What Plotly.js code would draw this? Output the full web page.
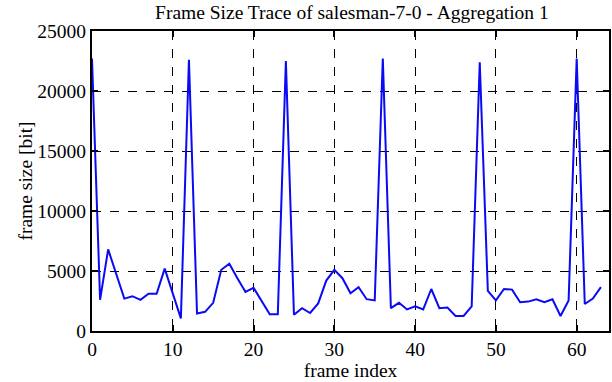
<!DOCTYPE html>
<html>
<head>
<meta charset="utf-8">
<script src="https://cdn.plot.ly/plotly-3.0.1.min.js"></script>
<style>html,body{margin:0;padding:0;background:#fff;}#chart{width:612px;height:382px;}</style>
</head>
<body>
<div id="chart"></div>
<script>
const frameIndex = Array.from({length: 64}, (_, i) => i);
const frameSize = [
  22700, 2600, 6800, 4700, 2700, 2900, 2600, 3100, 3100, 5200,
  3200, 1050, 22600, 1450, 1600, 2350, 5100, 5600, 4400, 3250,
  3600, 2450, 1400, 1400, 22500, 1350, 1900, 1500, 2300, 4200,
  5100, 4400, 3150, 3650, 2650, 2550, 22700, 1900, 2350, 1800,
  2050, 1800, 3500, 1900, 1950, 1250, 1250, 2050, 22400, 3350,
  2550, 3500, 3450, 2400, 2450, 2650, 2400, 2650, 1250, 2550,
  22700, 2250, 2700, 3650
];
const xTicks = [0, 10, 20, 30, 40, 50, 60];
const yTicks = [0, 5000, 10000, 15000, 20000, 25000];

const font = 'Liberation Serif, Times New Roman, serif';
const axisCommon = {
  showline: true, linecolor: '#000', linewidth: 2, mirror: 'allticks',
  ticks: 'inside', ticklen: 6, tickwidth: 2, tickcolor: '#000',
  showgrid: true, gridcolor: '#000', gridwidth: 1, griddash: 'dash',
  zeroline: false, tickfont: {family: font, size: 19.5, color: '#000'}
};
Plotly.newPlot('chart', [{
  x: frameIndex, y: frameSize, type: 'scatter', mode: 'lines',
  line: {color: '#0a0af5', width: 2}
}], {
  width: 612, height: 382,
  margin: {l: 92, r: 3, t: 31, b: 51},
  paper_bgcolor: '#fff', plot_bgcolor: '#fff',
  showlegend: false,
  title: {text: 'Frame Size Trace of salesman-7-0 - Aggregation 1', x: 0.575, xanchor: 'center', y: 0.985, yanchor: 'top', font: {family: font, size: 19.5, color: '#000'}},
  xaxis: Object.assign({}, axisCommon, {range: [0, 64], tickvals: xTicks, ticktext: xTicks.map(String),
    title: {text: 'frame index', font: {family: font, size: 19.5, color: '#000'}, standoff: 4}}),
  yaxis: Object.assign({}, axisCommon, {range: [0, 25000], tickvals: yTicks, ticktext: yTicks.map(String),
    title: {text: 'frame size [bit]', font: {family: font, size: 19.5, color: '#000'}, standoff: 0}})
}, {staticPlot: true, displayModeBar: false});
</script>
</body>
</html>
